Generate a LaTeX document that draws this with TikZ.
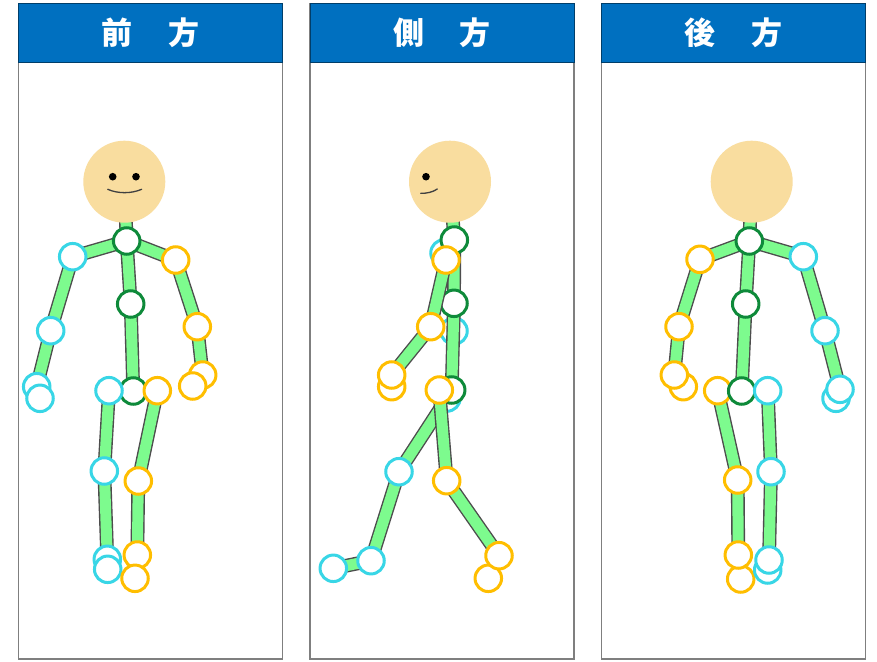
\documentclass[tikz,border=0pt]{standalone}
\usepackage{fontspec}
\newfontfamily\cjk{Noto Sans CJK JP}
\definecolor{headblue}{HTML}{0070C0}
\definecolor{frame}{HTML}{7F7F7F}
\definecolor{skin}{HTML}{F9DD9F}
\definecolor{bonegreen}{HTML}{7DFB8E}
\definecolor{bonegray}{HTML}{4D4D4D}
\definecolor{jcyan}{HTML}{38D6E6}
\definecolor{jorange}{HTML}{FFBE00}
\definecolor{jgreen}{HTML}{0E8A3A}

\begin{document}
\begin{tikzpicture}[
  panel/.style={draw=frame,line width=1.4pt,fill=white},
  header/.style={draw=headblue!55!black,line width=1pt,fill=headblue},
  title/.style={text=white,font=\cjk\bfseries\fontsize{31}{31}\selectfont},
  bone/.style={draw=bonegray,line width=1.4pt,double=bonegreen,double distance=11pt},
  head/.style={circle,fill=skin,minimum size=82pt,inner sep=0pt},
  joint/.style={circle,fill=white,line width=3pt,minimum size=26.5pt,inner sep=0pt},
  jc/.style={joint,draw=jcyan},
  jo/.style={joint,draw=jorange},
  jg/.style={joint,draw=jgreen},
  mouth/.style={draw=black!75,line width=1.3pt,line cap=round}]
\pgfsetxvec{\pgfpoint{1pt}{0}}
\pgfsetyvec{\pgfpoint{0}{-1pt}}
\useasboundingbox (0,0) rectangle (877,661);
\fill[white] (0,0) rectangle (877,661);

% panels with title bars
\foreach \x/\t/\n in {18.3/前/t1,310/側/t2,601.7/後/t3}{
  \draw[panel] (\x,3.5) rectangle ++(264,655.5);
  \draw[header] (\x,3.5) rectangle ++(264,59.2);
  \node[title] (\n) at (\x+132,33) {\t\hspace{1.15em}方};
}

%%%% front
\coordinate (fhd) at (124.3,181.7);
\coordinate (fnk) at (126.7,241);
\coordinate (frs) at (72.7,256.7);
\coordinate (fls) at (175.7,260);
\coordinate (fsp) at (130.7,304);
\coordinate (fre) at (50.7,330.7);
\coordinate (fle) at (197.3,326.7);
\coordinate (frw) at (36.7,386.7);
\coordinate (frh) at (40,398.3);
\coordinate (flw) at (202.7,375);
\coordinate (flh) at (192.7,386);
\coordinate (fhp) at (133.3,391);
\coordinate (frp) at (109,390.7);
\coordinate (flp) at (157.3,390.7);
\coordinate (frk) at (104.3,471);
\coordinate (flk) at (138.3,481);
\coordinate (fra) at (107.3,559.3);
\coordinate (frf) at (107.7,569.3);
\coordinate (fla) at (137.3,555);
\coordinate (flf) at (135,578.3);

\draw[bone] (fhd)--(fnk)--(fsp)--(fhp);
\draw[bone] (fnk)--(frs)--(fre)--(frw)--(frh);
\draw[bone] (fnk)--(fls)--(fle)--(flw)--(flh);
\draw[bone] (frp)--(frk)--(fra)--(frf);
\draw[bone] (flp)--(flk)--(fla)--(flf);
\node[head] (fhead) at (fhd) {};
\fill (112.7,176.7) circle (3.8) (136,176.7) circle (3.8);
\draw[mouth] (107.7,189.3) .. controls (118,193.8) and (131,193.8) .. (141.7,189.3);
\foreach \j in {fnk,fsp,fhp} \node[jg] (\j j) at (\j) {};
\foreach \j in {frs,fre,frw,frh,frp,frk,fra,frf} \node[jc] (\j j) at (\j) {};
\foreach \j in {fls,fle,flw,flh,flp,flk,fla,flf} \node[jo] (\j j) at (\j) {};

%%%% side
\coordinate (shd) at (450,181.7);
\coordinate (snk) at (454.3,240);
\coordinate (srs) at (444,253);
\coordinate (sls) at (446,260);
\coordinate (ssp) at (454,303.3);
\coordinate (sre) at (454,331);
\coordinate (sle) at (430.7,326.7);
\coordinate (slw) at (391.7,375);
\coordinate (slh) at (391.7,386.7);
\coordinate (shp) at (451.7,390);
\coordinate (slp) at (439.3,390);
\coordinate (srp) at (447,398);
\coordinate (srk) at (399,471.7);
\coordinate (sra) at (371,560.7);
\coordinate (srf) at (333.3,568.3);
\coordinate (slk) at (446.7,480.7);
\coordinate (sla) at (499,555.7);
\coordinate (slf) at (488.3,578.3);

% far side first
\draw[bone] (srp)--(srk)--(sra)--(srf);
\foreach \j in {srs,sre,srp,srk,sra,srf} \node[jc] (\j j) at (\j) {};
\draw[bone] (shd)--(snk)--(ssp)--(shp);
\node[head] (shead) at (shd) {};
\fill (426,176.7) circle (3.8);
\draw[mouth] (420.7,193.3) .. controls (427,193.5) and (433,192) .. (437.3,189);
\foreach \j in {snk,ssp,shp} \node[jg] (\j j) at (\j) {};
\draw[bone] (sls)--(sle)--(slw)--(slh);
\draw[bone] (slp)--(slk)--(sla)--(slf);
\foreach \j in {sls,sle,slh,slw,slp,slk,slf,sla} \node[jo] (\j j) at (\j) {};

%%%% back
\coordinate (bhd) at (751.7,181.7);
\coordinate (bnk) at (749.3,241);
\coordinate (bls) at (700,259.3);
\coordinate (brs) at (803.3,256.7);
\coordinate (bsp) at (745.7,304);
\coordinate (ble) at (679,326.7);
\coordinate (bre) at (825,330.7);
\coordinate (blw) at (674.3,375);
\coordinate (blh) at (683.3,386.7);
\coordinate (brw) at (840,389.3);
\coordinate (brh) at (836,398.3);
\coordinate (bhp) at (741.7,391);
\coordinate (blp) at (717.7,390.7);
\coordinate (brp) at (767.7,390.7);
\coordinate (blk) at (737.7,480);
\coordinate (brk) at (771,471.7);
\coordinate (bla) at (738.3,555);
\coordinate (blf) at (740.7,579);
\coordinate (bra) at (769,560);
\coordinate (brf) at (767.7,570);

\draw[bone] (bhd)--(bnk)--(bsp)--(bhp);
\draw[bone] (bnk)--(bls)--(ble)--(blw)--(blh);
\draw[bone] (bnk)--(brs)--(bre)--(brw)--(brh);
\draw[bone] (blp)--(blk)--(bla)--(blf);
\draw[bone] (brp)--(brk)--(bra)--(brf);
\node[head] (bhead) at (bhd) {};
\foreach \j in {bls,ble,blh,blw,blp,blk,blf,bla} \node[jo] (\j j) at (\j) {};
\foreach \j in {bnk,bsp,bhp} \node[jg] (\j j) at (\j) {};
\foreach \j in {brs,bre,brh,brw,brp,brk,brf,bra} \node[jc] (\j j) at (\j) {};
\end{tikzpicture}
\end{document}
